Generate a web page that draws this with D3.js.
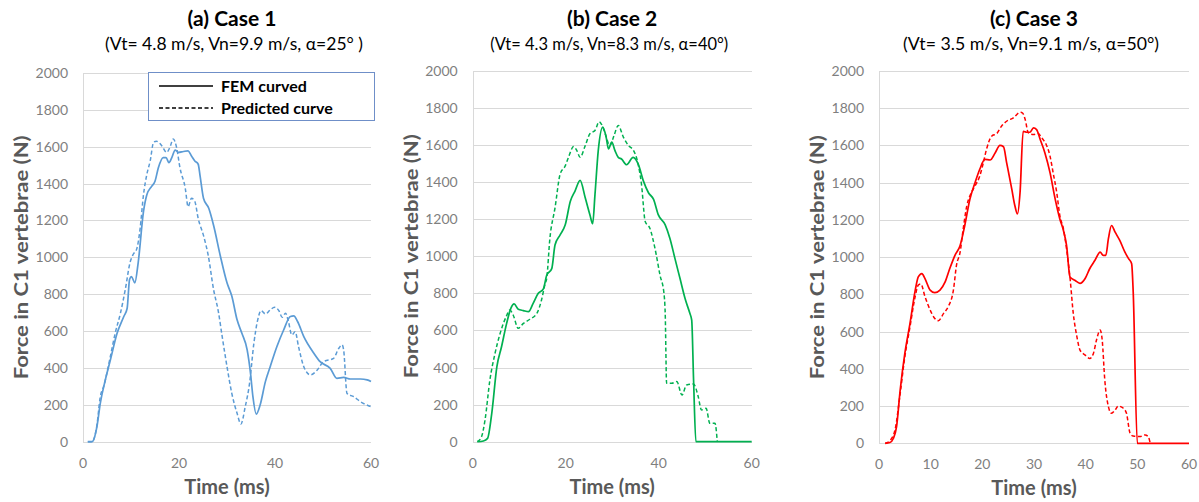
<!DOCTYPE html>
<html>
<head>
<meta charset="utf-8">
<script src="https://cdn.jsdelivr.net/npm/d3@7.8.5/dist/d3.min.js"></script>
<style>
  body { margin: 0; background: #fff; }
  svg { display: block; font-family: Lato, "Open Sans", sans-serif; }
  .grid line { stroke: #d9d9d9; stroke-width: 1; shape-rendering: crispEdges; }
  .tick-label { fill: #7f7f7f; font-size: 14px; }
  .axis-title { fill: #595959; font-weight: bold; }
</style>
</head>
<body>
<svg id="chart" width="1199" height="502"></svg>
<script>
// ticks
const forceTicks = [0, 200, 400, 600, 800, 1000, 1200, 1400, 1600, 1800, 2000];
const timeTicksWide = [0, 20, 40, 60];
const timeTicksFine = [0, 10, 20, 30, 40, 50, 60];

// Case 1 : [time (ms), force (N)]
const case1Fem = [
  [1,0],[1.9,0],[2.9,81],[3.6,208],[4.65,335],[5.7,443],[7.1,588],[8.5,679],[9.2,724],[9.7,880],
  [10.1,895],[10.8,862],[11.5,972],[12.6,1248],[13.3,1339],[14.3,1385],[15,1413],[15.7,1486],
  [16.7,1541],[17.3,1541],[17.9,1514],[18.5,1541],[19.2,1582],[19.9,1569],[20.9,1574],[21.9,1578],
  [22.6,1550],[23.3,1523],[24,1505],[24.4,1440],[25.1,1321],[26.2,1266],[27.2,1174],[28.6,1009],
  [30,862],[31,790],[32.1,661],[33.1,588],[34.2,498],[34.9,371],[35.4,244],[36.1,150],[36.9,199],
  [38,326],[39,407],[40.4,516],[41.8,606],[43.2,679],[43.9,682],[44.7,652],[46,570],[48.1,480],
  [49.4,434],[51.5,398],[52.9,344],[54.3,349],[55.7,340],[57.8,340],[59.2,335],[60,326]
];
const case1Pred = [
  [1,0],[1.9,0],[2.9,90],[3.6,244],[4.3,299],[5.7,462],[6.7,588],[7.8,697],[8.8,824],[9.8,972],
  [10.5,1018],[11.2,1046],[11.9,1156],[12.6,1339],[13.3,1450],[14,1523],[14.7,1624],[15.3,1630],
  [16.4,1606],[17.4,1569],[18.1,1596],[18.8,1642],[19.5,1596],[20.2,1486],[21.3,1376],[21.9,1275],
  [22.6,1321],[23.3,1303],[24,1211],[25.1,1119],[26.1,1009],[27.2,826],[28.2,706],[29,570],
  [30,407],[31,262],[32.1,154],[32.9,96],[33.8,190],[34.7,317],[35.6,534],[36.4,661],[37.1,711],
  [38,693],[39,715],[39.9,729],[40.8,711],[41.5,675],[42.2,697],[42.8,652],[43.5,579],[44.2,597],
  [44.9,516],[46,407],[47.4,362],[48.8,389],[50.1,434],[52.2,452],[53.3,507],[54,525],[54.3,498],
  [55,262],[56.4,244],[57.8,217],[60,190]
];

// Case 2
const case2Fem = [
  [1,0],[2.3,4],[3.2,18],[4.1,153],[5.2,405],[6.2,512],[7.3,638],[8.2,719],[8.9,743],[9.8,714],
  [10.9,707],[12,701],[13,746],[14.1,800],[15.2,824],[15.9,896],[17,933],[17.7,1060],[18.8,1115],
  [19.9,1169],[21,1296],[22,1351],[23.1,1409],[24.2,1315],[25.2,1224],[25.8,1175],[26.3,1333],
  [27,1569],[27.96,1696],[28.7,1642],[29.2,1578],[29.9,1615],[30.6,1569],[31.3,1533],[32,1524],
  [33.1,1493],[34.5,1533],[35.6,1496],[36.7,1406],[37.8,1342],[38.9,1306],[39.9,1224],[41.4,1169],
  [42.4,1097],[43.5,987],[44.6,878],[45.7,769],[46.7,692],[47.1,656],[47.5,333],[48,0],[49,0],[60,0]
];
const case2Pred = [
  [1,0],[1.9,27],[2.65,117],[3.7,333],[4.8,476],[5.9,584],[7.2,674],[8,710],[8.7,683],[9.8,611],
  [10.9,638],[12.3,660],[13.8,692],[14.8,764],[15.6,854],[15.9,878],[16.6,1096],[17.7,1260],
  [18.8,1442],[19.9,1487],[20.6,1533],[21.7,1591],[22.4,1569],[23.1,1533],[24.2,1596],[25.2,1660],
  [26.3,1678],[27.2,1724],[27.7,1711],[28.5,1660],[29.5,1596],[30.4,1651],[31.3,1705],[32.4,1642],
  [33.5,1596],[34.6,1569],[35.4,1515],[36.3,1387],[37.1,1187],[38.1,1151],[39.2,1042],[40.3,896],
  [41.1,806],[41.4,692],[41.7,315],[42.8,315],[43.9,324],[45,252],[46,306],[47.5,311],[48.5,243],
  [49.2,171],[50.2,180],[51,99],[52.1,99],[52.6,0]
];

// Case 3
const case3Fem = [
  [1.2,0],[2.1,4],[2.8,27],[3.4,90],[4.1,286],[5,483],[6,644],[7,820],[7.6,894],[8.3,912],[8.9,885],
  [9.9,823],[10.8,809],[11.8,823],[12.8,867],[13.7,939],[14.7,1010],[15.7,1063],[16.6,1170],
  [17.6,1312],[18.6,1401],[19.5,1472],[20.5,1525],[21.5,1522],[22.5,1561],[23.4,1600],[24.1,1593],
  [24.7,1508],[25.7,1365],[26.3,1276],[26.8,1232],[27.3,1347],[27.9,1676],[28.6,1671],[29.2,1671],
  [29.9,1694],[30.5,1685],[31.2,1632],[32.1,1561],[33.1,1454],[34.1,1312],[35,1205],[35.7,1143],
  [36.3,1063],[36.97,894],[37.9,876],[38.9,859],[39.9,885],[40.8,939],[41.8,983],[42.8,1027],
  [43.4,1010],[43.9,1010],[44.4,1099],[45,1170],[45.7,1134],[46.6,1090],[47.6,1027],[48.3,992],
  [48.9,965],[49.2,814],[50,0],[50.8,0],[60,0]
];
const case3Pred = [
  [1.2,0],[2.1,14],[3.1,72],[4.1,268],[5,465],[6,626],[7,788],[7.6,850],[8.1,856],[8.9,788],
  [9.9,716],[10.8,671],[11.5,659],[12.5,698],[13.4,734],[14.4,823],[15,957],[15.7,1027],[16.3,1152],
  [17,1276],[17.6,1330],[18.6,1383],[19.5,1436],[20.2,1508],[20.8,1579],[21.8,1650],[22.8,1664],
  [23.7,1703],[24.7,1730],[26,1748],[27.3,1778],[27.8,1774],[28.3,1739],[28.9,1668],[29.9,1659],
  [30.8,1664],[31.5,1641],[32.5,1596],[33.1,1543],[33.7,1454],[34.4,1347],[35,1223],[35.7,1152],
  [36.3,1045],[37,880],[37.6,698],[38.3,573],[38.9,501],[39.9,474],[40.8,456],[41.5,483],[42.1,555],
  [42.8,609],[43.2,555],[43.7,340],[44.4,197],[45,161],[45.7,179],[46.3,200],[47.3,188],[47.9,161],
  [48.6,54],[49.2,39],[50.5,36],[51.5,45],[52.1,36],[52.5,0]
];

const titles = ["(a) Case 1", "(b) Case 2", "(c) Case 3"];
const subtitles = [
  "(Vt= 4.8 m/s, Vn=9.9 m/s, \u03b1=25\u00b0 )",
  "(Vt= 4.3 m/s, Vn=8.3 m/s, \u03b1=40\u00b0)",
  "(Vt= 3.5 m/s, Vn=9.1 m/s, \u03b1=50\u00b0)"
];
const legendLabels = ["FEM curved", "Predicted curve"];

const panels = [
  { fem: case1Fem, pred: case1Pred, color: "#5b9bd5", xt: timeTicksWide, box: [83, 371, 73, 441.7], subLen: 258 },
  { fem: case2Fem, pred: case2Pred, color: "#00b050", xt: timeTicksWide, box: [472.7, 751.7, 70.7, 441.7], subLen: 238 },
  { fem: case3Fem, pred: case3Pred, color: "#ff0000", xt: timeTicksFine, box: [879, 1189, 71, 443.3], subLen: 256 }
];

const svg = d3.select("#chart");

panels.forEach((p, i) => {
  const [x0, x1, y0, y1] = p.box;
  const x = d3.scaleLinear().domain([0, 60]).range([x0, x1]);
  const y = d3.scaleLinear().domain([0, 2000]).range([y1, y0]);
  const g = svg.append("g");
  const cx = (x0 + x1) / 2;

  // titles
  g.append("text").attr("x", cx + (i === 0 ? 5 : 0)).attr("y", 26)
    .attr("text-anchor", "middle").attr("font-size", 21).attr("font-weight", "bold")
    .attr("fill", "#000").text(titles[i]);
  g.append("text").attr("x", cx + (i === 0 ? 7 : -3)).attr("y", 50)
    .attr("text-anchor", "middle").attr("font-size", 17).attr("fill", "#000")
    .attr("textLength", p.subLen).attr("lengthAdjust", "spacingAndGlyphs")
    .text(subtitles[i]);

  // gridlines
  const grid = g.append("g").attr("class", "grid");
  grid.selectAll("line.h").data(forceTicks).join("line").attr("class", "h")
    .attr("x1", x0).attr("x2", x1)
    .attr("y1", d => Math.round(y(d)) + 0.5).attr("y2", d => Math.round(y(d)) + 0.5);
  grid.append("line").attr("x1", Math.round(x0) + 0.5).attr("x2", Math.round(x0) + 0.5)
    .attr("y1", y0).attr("y2", y1);

  // y tick labels
  g.selectAll("text.yl").data(forceTicks).join("text").attr("class", "tick-label yl")
    .attr("x", x0 - 15).attr("y", d => y(d) + 5).attr("text-anchor", "end").text(d => d);
  // x tick labels
  g.selectAll("text.xl").data(p.xt).join("text").attr("class", "tick-label xl")
    .attr("x", d => x(d)).attr("y", y1 + 26).attr("text-anchor", "middle").text(d => d);

  // axis titles
  g.append("text").attr("class", "axis-title").attr("font-size", 20)
    .attr("x", cx).attr("y", y1 + 52).attr("text-anchor", "middle").text("Time (ms)");
  g.append("text").attr("class", "axis-title").attr("font-size", 19)
    .attr("transform", `translate(${x0 - 55},${(y0 + y1) / 2}) rotate(-90)`)
    .attr("text-anchor", "middle").attr("textLength", 244).attr("lengthAdjust", "spacingAndGlyphs")
    .text("Force in C1 vertebrae (N)");

  const line = d3.line().x(d => x(d[0])).y(d => y(d[1])).curve(d3.curveMonotoneX);
  g.append("path").datum(p.pred).attr("d", line).attr("fill", "none")
    .attr("stroke", p.color).attr("stroke-width", 1.5).attr("stroke-dasharray", "4,2.5");
  g.append("path").datum(p.fem).attr("d", line).attr("fill", "none")
    .attr("stroke", p.color).attr("stroke-width", 1.7);

  // legend (first panel only)
  if (i === 0) {
    const lg = g.append("g");
    lg.append("rect").attr("x", 148.5).attr("y", 72.5).attr("width", 226).attr("height", 48)
      .attr("fill", "#fff").attr("stroke", "#6f8fc8").attr("stroke-width", 1);
    legendLabels.forEach((lab, k) => {
      const ly = 86 + k * 22;
      lg.append("line").attr("x1", 159).attr("x2", 213).attr("y1", ly).attr("y2", ly)
        .attr("stroke", "#000").attr("stroke-width", 1.7)
        .attr("stroke-dasharray", k === 1 ? "4,2.5" : null);
      lg.append("text").attr("x", 221).attr("y", ly + 5.5).attr("font-size", 16)
        .attr("font-weight", "bold").attr("fill", "#000").text(lab);
    });
  }
});
</script>
</body>
</html>
